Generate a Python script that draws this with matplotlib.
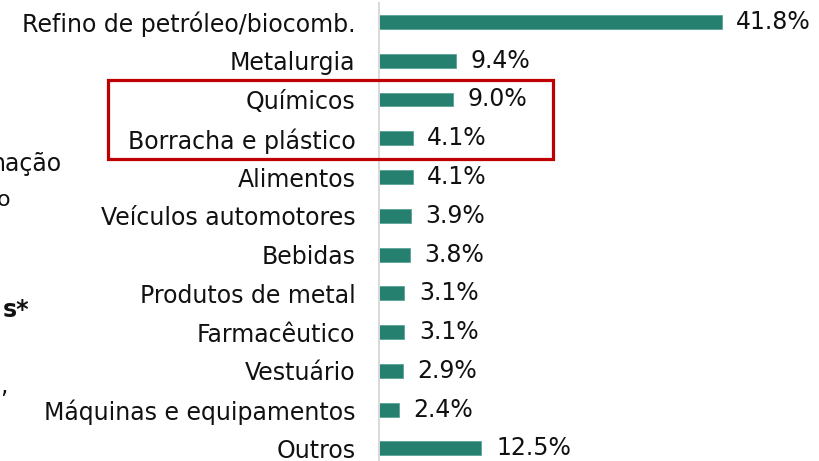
import matplotlib
matplotlib.use('Agg')
import matplotlib.pyplot as plt
from matplotlib.patches import Rectangle

sectors = ['Refino de petróleo/biocomb.', 'Metalurgia', 'Químicos', 'Borracha e plástico',
           'Alimentos', 'Veículos automotores', 'Bebidas', 'Produtos de metal',
           'Farmacêutico', 'Vestuário', 'Máquinas e equipamentos', 'Outros']
shares = [41.8, 9.4, 9.0, 4.1, 4.1, 3.9, 3.8, 3.1, 3.1, 2.9, 2.4, 12.5]

plt.rcParams['font.family'] = 'DejaVu Sans'

W, H = 819, 461
fig = plt.figure(figsize=(W / 100, H / 100), dpi=100)
ax = fig.add_axes([379 / W, (H - 467.7) / H, (W - 379) / W, 465.1 / H])

y = range(len(sectors))
ax.barh(y, shares, height=0.36, color='#25806f', edgecolor='#4f9c8e', linewidth=0.5)
ax.set_xlim(0, 53.66)
ax.set_ylim(len(sectors) - 0.5, -0.5)

ax.set_yticks(list(y))
ax.set_yticklabels(sectors, fontsize=17, color='#111111')
ax.tick_params(axis='y', length=0, pad=17)
ax.set_xticks([])

for s in ['top', 'right', 'bottom']:
    ax.spines[s].set_visible(False)
ax.spines['left'].set_color('#d9d9d9')
ax.spines['left'].set_linewidth(1.4)

for i, v in enumerate(shares):
    ax.annotate(f'{v:.1f}%', (v, i), xytext=(10.5, 0), textcoords='offset points',
                ha='left', va='center', fontsize=17, color='#111111')

# highlight box around Químicos / Borracha e plástico
fig.add_artist(Rectangle((108 / W, (H - 159) / H), (553 - 108) / W, 79 / H,
                         transform=fig.transFigure, fill=False,
                         edgecolor='#c00000', linewidth=2.3))

# cut-off text from the neighbouring panel
fig.text(62 / W, 1 - 164 / H, 'nação', ha='right', va='center', fontsize=17, color='#111111')
fig.text(10 / W, 1 - 200 / H, 'o', ha='right', va='center', fontsize=16, color='#111111')
fig.text(29 / W, 1 - 310 / H, 's*', ha='right', va='center', fontsize=17,
         fontweight='bold', color='#111111')
fig.text(8 / W, 1 - 386 / H, ',', ha='right', va='center', fontsize=17, color='#111111')

fig.savefig('out.png', dpi=100)
